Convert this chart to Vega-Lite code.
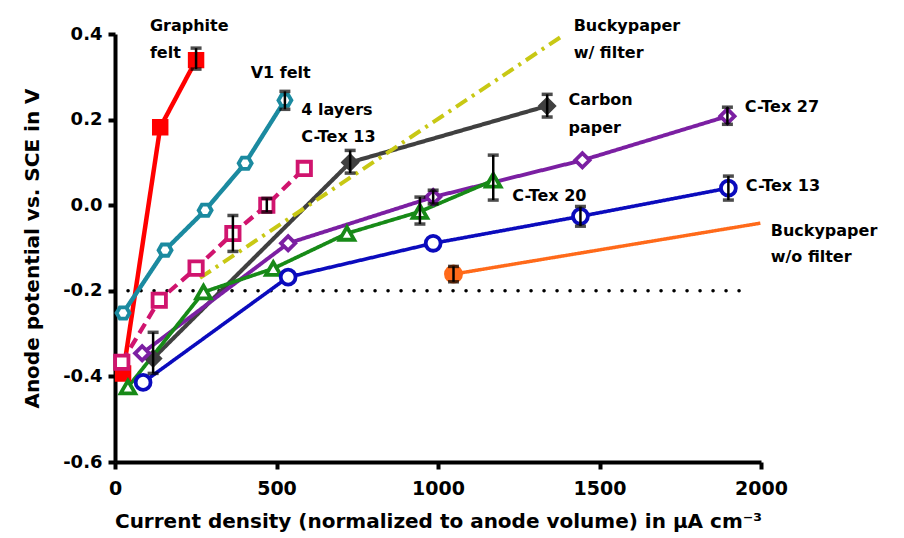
{
  "$schema": "https://vega.github.io/schema/vega-lite/v6.json",
  "width": 646,
  "height": 428,
  "autosize": {"type": "none"},
  "padding": {"left": 115, "top": 34, "right": 143, "bottom": 76},
  "background": "white",
  "config": {
    "view": {"stroke": null},
    "font": "DejaVu Sans",
    "axis": {
      "domainColor": "black", "domainWidth": 4, "tickColor": "black", "tickWidth": 4, "tickSize": 7,
      "labelFont": "DejaVu Sans", "labelFontWeight": "bold", "labelColor": "black",
      "titleFont": "DejaVu Sans", "titleFontWeight": "bold", "titleColor": "black", "grid": false
    }
  },
  "datasets": {
    "ref": [{"x": 0, "y": -0.2}, {"x": 1960, "y": -0.2}],
    "series": [
      {"s": "graphite", "x": 25, "y": -0.393}, {"s": "graphite", "x": 140, "y": 0.182}, {"s": "graphite", "x": 251, "y": 0.339},
      {"s": "v1", "x": 25, "y": -0.252}, {"s": "v1", "x": 155, "y": -0.105}, {"s": "v1", "x": 279, "y": -0.012}, {"s": "v1", "x": 403, "y": 0.098}, {"s": "v1", "x": 526, "y": 0.245},
      {"s": "layers4", "x": 21, "y": -0.367}, {"s": "layers4", "x": 137, "y": -0.222}, {"s": "layers4", "x": 251, "y": -0.147}, {"s": "layers4", "x": 365, "y": -0.066}, {"s": "layers4", "x": 470, "y": 0.0}, {"s": "layers4", "x": 586, "y": 0.086},
      {"s": "carbon", "x": 118, "y": -0.358}, {"s": "carbon", "x": 728, "y": 0.1}, {"s": "carbon", "x": 1338, "y": 0.232},
      {"s": "buckyw", "x": 263, "y": -0.17}, {"s": "buckyw", "x": 1388, "y": 0.397},
      {"s": "ctex27", "x": 84, "y": -0.346}, {"s": "ctex27", "x": 536, "y": -0.089}, {"s": "ctex27", "x": 985, "y": 0.019}, {"s": "ctex27", "x": 1447, "y": 0.105}, {"s": "ctex27", "x": 1896, "y": 0.208},
      {"s": "ctex20", "x": 40, "y": -0.425}, {"s": "ctex20", "x": 274, "y": -0.203}, {"s": "ctex20", "x": 490, "y": -0.148}, {"s": "ctex20", "x": 718, "y": -0.066}, {"s": "ctex20", "x": 944, "y": -0.015}, {"s": "ctex20", "x": 1171, "y": 0.058},
      {"s": "ctex13", "x": 87, "y": -0.414}, {"s": "ctex13", "x": 536, "y": -0.168}, {"s": "ctex13", "x": 985, "y": -0.089}, {"s": "ctex13", "x": 1441, "y": -0.026}, {"s": "ctex13", "x": 1899, "y": 0.04},
      {"s": "buckywo", "x": 1048, "y": -0.161}, {"s": "buckywo", "x": 1998, "y": -0.042}
    ],
    "errs": [
      {"x": 251, "lo": 0.318, "hi": 0.367},
      {"x": 526, "lo": 0.224, "hi": 0.266},
      {"x": 365, "lo": -0.108, "hi": -0.024},
      {"x": 470, "lo": -0.016, "hi": 0.016},
      {"x": 118, "lo": -0.393, "hi": -0.297},
      {"x": 728, "lo": 0.075, "hi": 0.128},
      {"x": 1338, "lo": 0.206, "hi": 0.259},
      {"x": 1896, "lo": 0.189, "hi": 0.229},
      {"x": 985, "lo": 0.003, "hi": 0.035},
      {"x": 1171, "lo": 0.012, "hi": 0.117},
      {"x": 944, "lo": -0.044, "hi": 0.019},
      {"x": 1899, "lo": 0.012, "hi": 0.068},
      {"x": 1441, "lo": -0.049, "hi": -0.003},
      {"x": 1048, "lo": -0.179, "hi": -0.143}
    ],
    "labels": [
      {"x": 108, "y": 0.418, "t": "Graphite"},
      {"x": 108, "y": 0.355, "t": "felt"},
      {"x": 420, "y": 0.308, "t": "V1 felt"},
      {"x": 577, "y": 0.222, "t": "4 layers"},
      {"x": 577, "y": 0.159, "t": "C-Tex 13"},
      {"x": 1420, "y": 0.418, "t": "Buckypaper"},
      {"x": 1420, "y": 0.355, "t": "w/ filter"},
      {"x": 1404, "y": 0.245, "t": "Carbon"},
      {"x": 1404, "y": 0.18, "t": "paper"},
      {"x": 1950, "y": 0.229, "t": "C-Tex 27"},
      {"x": 1230, "y": 0.021, "t": "C-Tex 20"},
      {"x": 1953, "y": 0.044, "t": "C-Tex 13"},
      {"x": 2030, "y": -0.061, "t": "Buckypaper"},
      {"x": 2030, "y": -0.121, "t": "w/o filter"}
    ]
  },
  "layer": [
    {
      "data": {"name": "ref"},
      "mark": {"type": "line", "color": "black", "strokeWidth": 3.5, "strokeDash": [0.1, 12.9], "strokeCap": "round"},
      "encoding": {
        "x": {"field": "x", "type": "quantitative", "scale": {"domain": [0, 2000], "nice": false, "zero": false},
          "axis": {"values": [0, 500, 1000, 1500, 2000], "format": "d", "labelFontSize": 19, "labelPadding": 10, "labelFlush": false,
            "title": "Current density (normalized to anode volume) in µA cm⁻³", "titleFontSize": 20, "titlePadding": 13}},
        "y": {"field": "y", "type": "quantitative", "scale": {"domain": [-0.6, 0.4], "nice": false, "zero": false},
          "axis": {"values": [-0.6, -0.4, -0.2, 0, 0.2, 0.4], "labelExpr": "replace(format(datum.value, '.1f'), '\u2212', '-')", "labelFontSize": 18, "labelPadding": 6, "labelFlush": false,
            "title": "Anode potential vs. SCE in V", "titleFontSize": 20, "titlePadding": 20}}
      }
    },
    {
      "data": {"name": "series"},
      "mark": {"type": "line", "strokeCap": "butt"},
      "encoding": {
        "x": {"field": "x", "type": "quantitative"},
        "y": {"field": "y", "type": "quantitative"},
        "color": {"field": "s", "type": "nominal", "legend": null,
          "scale": {"domain": ["graphite", "v1", "layers4", "carbon", "buckyw", "ctex27", "ctex20", "ctex13", "buckywo"],
            "range": ["#ff0000", "#1b8aa0", "#d0146e", "#404040", "#c8c814", "#7b1fa2", "#178a17", "#0b0bbd", "#ff6a1a"]}},
        "strokeDash": {"field": "s", "type": "nominal", "legend": null,
          "scale": {"domain": ["graphite", "v1", "layers4", "carbon", "buckyw", "ctex27", "ctex20", "ctex13", "buckywo"],
            "range": [[1, 0], [1, 0], [11, 6], [1, 0], [13, 6, 3, 6], [1, 0], [1, 0], [1, 0], [1, 0]]}},
        "strokeWidth": {"field": "s", "type": "nominal", "legend": null,
          "scale": {"domain": ["graphite", "v1", "layers4", "carbon", "buckyw", "ctex27", "ctex20", "ctex13", "buckywo"],
            "range": [4.5, 3.5, 3.5, 3.5, 3.5, 3.5, 3.5, 3.5, 3.5]}}
      }
    },
    {
      "data": {"name": "series"},
      "transform": [{"filter": "datum.s !== 'buckyw' && !(datum.s === 'buckywo' && datum.x > 1500)"}],
      "mark": {"type": "point", "strokeWidth": 3.8, "opacity": 1, "fillOpacity": 1, "strokeOpacity": 1},
      "encoding": {
        "x": {"field": "x", "type": "quantitative"},
        "y": {"field": "y", "type": "quantitative"},
        "shape": {"field": "s", "type": "nominal", "legend": null,
          "scale": {"domain": ["graphite", "v1", "layers4", "carbon", "buckyw", "ctex27", "ctex20", "ctex13", "buckywo"],
            "range": ["square", "M-1,0L-0.5,-0.866L0.5,-0.866L1,0L0.5,0.866L-0.5,0.866Z", "square", "diamond", "circle", "diamond", "triangle-up", "circle", "circle"]}},
        "stroke": {"field": "s", "type": "nominal", "legend": null,
          "scale": {"domain": ["graphite", "v1", "layers4", "carbon", "buckyw", "ctex27", "ctex20", "ctex13", "buckywo"],
            "range": ["#ff0000", "#1b8aa0", "#d0146e", "#404040", "#c8c814", "#7b1fa2", "#178a17", "#0b0bbd", "#ff6a1a"]}},
        "fill": {"field": "s", "type": "nominal", "legend": null,
          "scale": {"domain": ["graphite", "v1", "layers4", "carbon", "buckyw", "ctex27", "ctex20", "ctex13", "buckywo"],
            "range": ["#ff0000", "white", "white", "#404040", "white", "white", "white", "white", "#ff6a1a"]}},
        "size": {"field": "s", "type": "nominal", "legend": null,
          "scale": {"domain": ["graphite", "v1", "layers4", "carbon", "buckyw", "ctex27", "ctex20", "ctex13", "buckywo"],
            "range": [160, 230, 130, 200, 0, 280, 260, 190, 196]}}
      }
    },
    {
      "data": {"name": "errs"},
      "mark": {"type": "errorbar", "ticks": {"color": "black", "size": 11, "thickness": 3.5}, "rule": {"color": "black", "strokeWidth": 2.5}},
      "encoding": {
        "x": {"field": "x", "type": "quantitative"},
        "y": {"field": "lo", "type": "quantitative", "title": "Anode potential vs. SCE in V"},
        "y2": {"field": "hi"}
      }
    },
    {
      "data": {"name": "labels"},
      "mark": {"type": "text", "align": "left", "baseline": "middle", "fontSize": 16, "fontWeight": "bold", "font": "DejaVu Sans", "color": "black"},
      "encoding": {
        "x": {"field": "x", "type": "quantitative"},
        "y": {"field": "y", "type": "quantitative"},
        "text": {"field": "t"}
      }
    }
  ]
}
